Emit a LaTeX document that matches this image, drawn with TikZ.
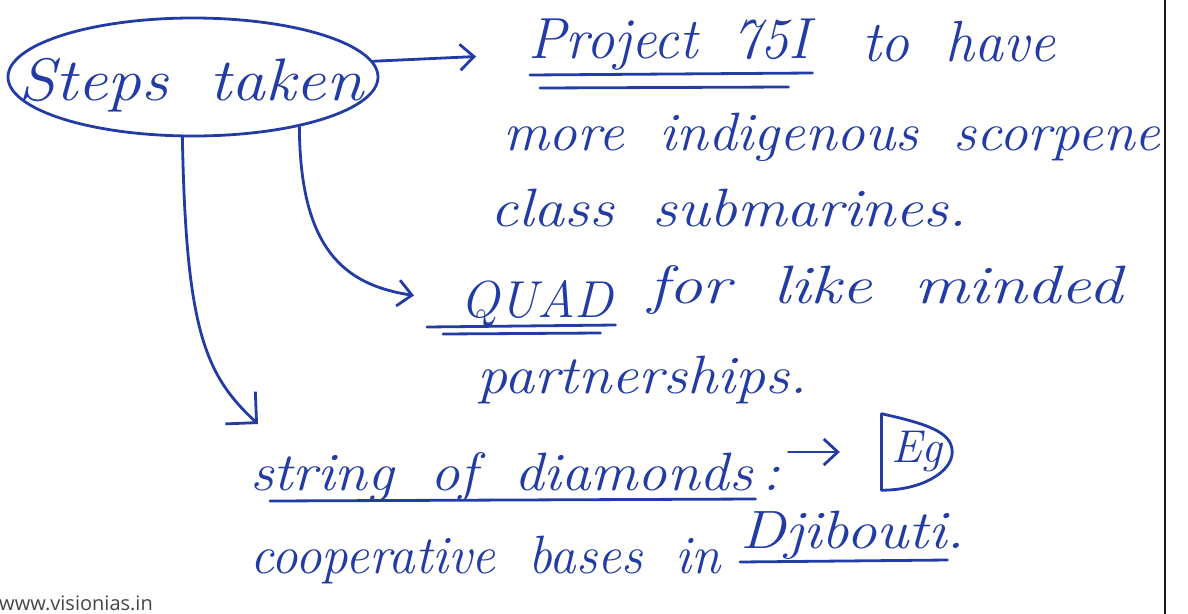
\documentclass[tikz,border=0pt]{standalone}
\usepackage{fontspec}
\usepackage{graphicx}
\newfontfamily\webfont{Open Sans}
\usetikzlibrary{arrows.meta,calc,shapes.geometric}

\definecolor{ink}{RGB}{35,60,165}
\definecolor{pagerule}{RGB}{25,25,30}
\definecolor{webgray}{RGB}{70,70,70}

% handwriting: italic at a given size, stretched sideways to a given width (pt)
\newcommand\hw[3]{{\fontsize{#1}{#1}\selectfont\itshape\spaceskip=.62em\relax
  \resizebox{#2pt}{\height}{#3}}}

\tikzset{
  pen/.style={draw=ink, line width=2.8pt, line cap=round, line join=round},
  barb/.style={-{Straight Barb[length=14pt,width=26pt]}},
  bigbarb/.style={-{Straight Barb[length=22pt,width=44pt]}},
  hand/.style={text=ink, inner sep=0pt, anchor=base west},
}

\begin{document}
\begin{tikzpicture}[x=1pt,y=-1pt]
  \fill[white] (0,0) rectangle (1188,613);
  \useasboundingbox (0,0) rectangle (1188,613);

  % page margin rule
  \draw[pagerule, line width=2.4pt] (1165,-5) -- (1165,620);

  % central bubble
  \node[ellipse, pen, minimum width=370pt, minimum height=118pt, inner sep=0pt] (steps) at (193,77) {};
  \node[hand] (stepstext) at (18,100) {\hw{60}{345}{Steps taken}};

  % notes
  \node[hand] (proj)    at (528,58)  {\hw{58}{282}{Project 75I}};
  \node[hand] (tohave)  at (862,61)  {\hw{58}{193}{to have}};
  \node[hand] (more)    at (503,150) {\hw{54}{657}{more indigenous scorpene}};
  \node[hand] (class)   at (490,226) {\hw{54}{477}{class submarines.}};
  \node[hand] (quad)    at (460,317) {\hw{52}{153}{QUAD}};
  \node[hand] (forlike) at (648,303) {\hw{54}{474}{for like minded}};
  \node[hand] (partner) at (477,393) {\hw{54}{330}{partnerships.}};
  \node[hand] (dia)     at (250,490) {\hw{54}{530}{string of diamonds\,:}};
  \node[text=ink, font=\fontsize{46}{46}\selectfont\itshape, minimum width=70pt,
        minimum height=76pt, inner sep=0pt] (eg) at (917,452) {Eg};
  \node[hand] (coop)    at (250,573) {\hw{54}{470}{cooperative bases in}};
  \node[hand] (dji)     at (740,548) {\hw{54}{225}{Djibouti.}};

  \node[anchor=base west, inner sep=0pt, text=webgray,
        font=\webfont\fontsize{20}{20}\selectfont] (web) at (-1,610) {www.visionias.in};

  % underlines
  \draw[pen] ($(proj.base west)+(2,17)$) -- ($(proj.base east)+(2,15)$);
  \draw[pen] ($(proj.base west)+(12,30)$) -- ($(proj.base east)+(-22,29)$);
  \draw[pen] ($(quad.base west)+(-33,10)$) -- ($(quad.base east)+(2,8)$);
  \draw[pen] ($(quad.base west)+(-17,17)$) -- ($(quad.base east)+(-13,16)$);
  \draw[pen] ($(dia.base west)+(20,11)$) -- ($(dia.base east)+(-25,9)$);
  \draw[pen] ($(dji.base west)+(0,14)$) -- ($(dji.base east)+(-18,12)$);

  % frame round "Eg"
  \draw[pen] (eg.north west) -- (eg.south west);
  \draw[pen] (eg.north west) .. controls ($(eg.north west)+(45,10)$) and ($(eg.east)+(0,-20)$) .. (eg.east)
             .. controls ($(eg.east)+(0,20)$) and ($(eg.south west)+(40,0)$) .. (eg.south west);

  % connectors
  \coordinate (strtip) at (258,424);
  \draw[pen, barb, shorten >=52pt] (steps.5) -- ([yshift=-10pt]proj.west);
  \draw[pen, barb] (steps.-25) .. controls (300,250) and (345,285) .. ([xshift=-46pt,yshift=8pt]quad.west);
  \draw[pen, bigbarb] (steps.-100) .. controls (186,330) and (205,375) .. (strtip);
  \draw[pen, barb, shorten <=8pt, shorten >=42pt] (dia.east |- eg.west) -- (eg.west);
\end{tikzpicture}
\end{document}
